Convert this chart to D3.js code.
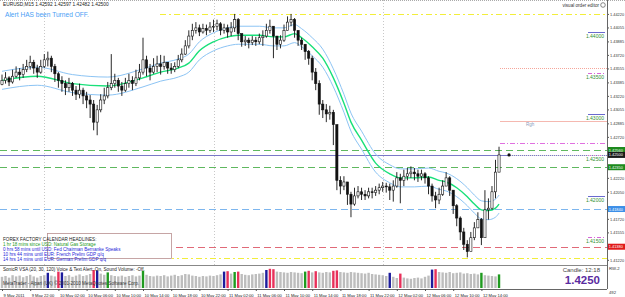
<!DOCTYPE html>
<html>
<head>
<meta charset="utf-8">
<script src="https://cdn.jsdelivr.net/npm/d3@7"></script>
<style>
body { margin: 0; background: #fff; }
svg { display: block; font-family: "Liberation Sans", Arial, sans-serif; }
</style>
</head>
<body>
<svg id="chart" width="625" height="297"></svg>
<script>
// EURUSD M15, resampled to 30 min bars starting 9 May 2011 18:00
var firstOpen = 1.4336
var closes = [1.4341,1.4344,1.4339,1.4346,1.4351,1.4348,1.4354,1.4358,1.4363,1.4356,
  1.4351,1.4358,1.4366,1.4368,1.4358,1.4349,1.4341,1.4337,1.4332,1.4337,
  1.4329,1.4324,1.4329,1.4322,1.4317,1.4312,1.4290,1.4305,1.4317,1.4322,
  1.4332,1.4337,1.4341,1.4334,1.4329,1.4337,1.4341,1.4337,1.4344,1.4351,
  1.4366,1.4356,1.4351,1.4358,1.4361,1.4358,1.4363,1.4356,1.4354,1.4358,
  1.4366,1.4373,1.4383,1.4395,1.4402,1.4405,1.4400,1.4404,1.4402,1.4406,
  1.4407,1.4410,1.4402,1.4405,1.4400,1.4405,1.4415,1.4398,1.4388,1.4390,
  1.4387,1.4390,1.4388,1.4393,1.4395,1.4402,1.4407,1.4395,1.4385,1.4390,
  1.4402,1.4412,1.4415,1.4402,1.4390,1.4385,1.4376,1.4368,1.4351,1.4337,
  1.4312,1.4305,1.4300,1.4302,1.4287,1.4219,1.4212,1.4217,1.4202,1.4190,
  1.4200,1.4205,1.4202,1.4200,1.4205,1.4204,1.4207,1.4210,1.4212,1.4211,
  1.4207,1.4212,1.4222,1.4219,1.4224,1.4227,1.4229,1.4227,1.4224,1.4227,
  1.4222,1.4212,1.4200,1.4195,1.4202,1.4212,1.4222,1.4207,1.4188,1.4173,
  1.4156,1.4141,1.4132,1.4149,1.4161,1.4171,1.4149,1.4183,1.4185,1.4205,
  1.4229,1.4250]
var highs = [1.4348,1.4351,1.4346,1.4354,1.4358,1.4356,1.4361,1.4366,1.4371,1.4366,
  1.4360,1.4366,1.4373,1.4376,1.4371,1.4361,1.4351,1.4346,1.4341,1.4344,
  1.4339,1.4334,1.4337,1.4332,1.4327,1.4323,1.4317,1.4311,1.4324,1.4332,
  1.4339,1.4373,1.4349,1.4344,1.4339,1.4344,1.4349,1.4346,1.4354,1.4361,
  1.4393,1.4371,1.4361,1.4368,1.4371,1.4372,1.4371,1.4363,1.4362,1.4363,
  1.4372,1.4380,1.4390,1.4402,1.4410,1.4412,1.4409,1.4410,1.4409,1.4412,
  1.4415,1.4415,1.4412,1.4410,1.4409,1.4412,1.4422,1.4417,1.4398,1.4395,
  1.4393,1.4395,1.4394,1.4398,1.4402,1.4410,1.4415,1.4407,1.4395,1.4396,
  1.4409,1.4419,1.4422,1.4417,1.4400,1.4393,1.4385,1.4378,1.4371,1.4356,
  1.4341,1.4317,1.4312,1.4310,1.4305,1.4268,1.4224,1.4224,1.4217,1.4205,
  1.4210,1.4212,1.4210,1.4207,1.4210,1.4210,1.4212,1.4215,1.4217,1.4216,
  1.4215,1.4219,1.4229,1.4227,1.4232,1.4234,1.4236,1.4234,1.4232,1.4232,
  1.4229,1.4224,1.4215,1.4205,1.4210,1.4219,1.4229,1.4224,1.4207,1.4190,
  1.4175,1.4161,1.4146,1.4156,1.4168,1.4180,1.4173,1.4207,1.4197,1.4212,
  1.4244,1.4260]
var lows = [1.4335,1.4337,1.4334,1.4337,1.4344,1.4341,1.4344,1.4351,1.4354,1.4349,
  1.4344,1.4349,1.4356,1.4358,1.4351,1.4339,1.4332,1.4327,1.4323,1.4327,
  1.4322,1.4317,1.4319,1.4312,1.4307,1.4295,1.4280,1.4274,1.4302,1.4312,
  1.4319,1.4329,1.4332,1.4327,1.4322,1.4327,1.4332,1.4329,1.4334,1.4341,
  1.4348,1.4346,1.4341,1.4349,1.4351,1.4348,1.4354,1.4349,1.4349,1.4351,
  1.4356,1.4363,1.4372,1.4380,1.4390,1.4398,1.4395,1.4398,1.4396,1.4399,
  1.4400,1.4402,1.4396,1.4398,1.4393,1.4395,1.4400,1.4390,1.4382,1.4383,
  1.4380,1.4384,1.4383,1.4385,1.4383,1.4393,1.4398,1.4368,1.4378,1.4380,
  1.4388,1.4402,1.4407,1.4393,1.4383,1.4378,1.4366,1.4360,1.4341,1.4329,
  1.4299,1.4295,1.4290,1.4293,1.4262,1.4207,1.4202,1.4207,1.4189,1.4174,
  1.4188,1.4197,1.4195,1.4195,1.4197,1.4197,1.4200,1.4202,1.4205,1.4204,
  1.4195,1.4193,1.4210,1.4191,1.4212,1.4219,1.4222,1.4219,1.4217,1.4219,
  1.4215,1.4202,1.4193,1.4185,1.4190,1.4200,1.4212,1.4200,1.4178,1.4163,
  1.4146,1.4134,1.4125,1.4136,1.4146,1.4161,1.4140,1.4156,1.4171,1.4183,
  1.4197,1.4229]

// moving average read at some bars, envelope +/- deviation
var maIdx = [0,10,20,30,40,45,50,53,56,60,64,67,73,77,80,83,85,88,91,94,97,99,102,106,110,113,117,121,124,126,129,132,134,136,138,140,141]
var maVals = [1.4341,1.4346,1.4337,1.4334,1.4344,1.4351,1.4356,1.4362,1.4377,1.4388,1.4394,1.4396,1.4396,1.4394,1.4394,1.4398,1.4393,1.4382,1.4368,1.4344,1.4313,1.4290,1.4268,1.4240,1.4227,1.4222,1.4222,1.4223,1.4219,1.4217,1.4210,1.4199,1.4190,1.4183,1.4182,1.4185,1.4190]
var envDev = 0.0011

// tick volume per bar and VSA signal bars
var volumes = [560,600,520,640,580,620,540,600,660,580,520,600,640,760,620,580,820,780,600,640,
  560,620,680,600,640,700,900,880,720,660,780,640,600,580,620,560,600,640,580,620,
  860,660,600,580,620,600,640,580,620,660,600,640,700,680,620,600,560,600,580,620,
  600,640,680,820,840,720,800,820,700,660,640,680,700,720,760,900,960,940,820,800,
  780,760,800,780,760,740,820,860,780,840,780,760,800,780,860,880,800,780,760,800,
  780,760,740,720,760,700,680,660,640,600,760,560,500,720,520,480,460,500,520,480,
  560,620,920,940,800,780,760,800,740,760,780,720,740,700,720,680,760,640,620,600,
  580,680]
var volBlue = [13,17,27,63,75,110,122]
var volRed = [16,26,64,67,76,77,87,89,94,95,113,123]
var volGreen = [30,40,66,86,136,141]

// horizontal objects
var priceNow = 1.4250
var greenLevels = [1.4256, 1.4235]
var blueLevels = [1.4184]
var redLevels = [1.4138]
var yellowLevels = [1.4422, 1.4124]
var roundLevels = [1.4400, 1.4350, 1.4300, 1.4250, 1.4200, 1.4150]
var pivotDotted = 1.4356, pivotSolid = 1.4291, pivotDashDot = 1.4265

var priceTicks = [1.44220,1.44055,1.43885,1.43720,1.43555,1.43385,1.43220,1.43055,1.42885,1.42720,
  1.42555,1.42385,1.42220,1.42050,1.41885,1.41720,1.41555,1.41385,1.41220]
var timeTicks = ['2011-05-09 18:00','2011-05-09 22:00','2011-05-10 02:00','2011-05-10 06:00','2011-05-10 10:00',
  '2011-05-10 14:00','2011-05-10 18:00','2011-05-10 22:00','2011-05-11 02:00','2011-05-11 06:00',
  '2011-05-11 10:00','2011-05-11 14:00','2011-05-11 18:00','2011-05-11 22:00','2011-05-12 02:00',
  '2011-05-12 06:00','2011-05-12 10:00','2011-05-12 14:00']
var timeLabels = ['9 May 2011','9 May 22:00','10 May 02:00','10 May 06:00','10 May 10:00',
  '10 May 14:00','10 May 18:00','10 May 22:00','11 May 02:00','11 May 06:00',
  '11 May 10:00','11 May 14:00','11 May 18:00','11 May 22:00','12 May 02:00',
  '12 May 06:00','12 May 10:00','12 May 14:00']
var daySeparators = ['2011-05-10 00:00','2011-05-11 00:00','2011-05-12 00:00']
var headlines = [
  {text: 'FOREX FACTORY CALENDAR HEADLINES:', color: '#222'},
  {text: '1 hr 18 mins since USD: Natural Gas Storage', color: '#1e9a1e'},
  {text: '0 hrs 58 mins until USD: Fed Chairman Bernanke Speaks', color: '#2828d8'},
  {text: '10 hrs 44 mins until EUR: French Prelim GDP q/q', color: '#2828d8'},
  {text: '14 hrs 14 mins until EUR: German Prelim GDP q/q', color: '#2828d8'}
]

var parse = d3.timeParse('%Y-%m-%d %H:%M')
var t0 = parse(timeTicks[0])
var barTime = function(i) { return d3.timeMinute.offset(t0, 30 * i) }

var axisX = 607, mainBottom = 265
var x = d3.scaleTime().domain([t0, parse(timeTicks[timeTicks.length - 1])]).range([2, 2 + 17 * 28.2])
var y = d3.scaleLinear().domain([1.4439, 1.4439 - 0.000122 * mainBottom]).range([0, mainBottom])
var yv = d3.scaleLinear().domain([0, 1000]).range([288, 268])

var svg = d3.select('#chart')
svg.append('rect').attr('width', 625).attr('height', 297).attr('fill', '#fff')

svg.append('defs').append('clipPath').attr('id', 'mainclip')
  .append('rect').attr('x', 0).attr('y', 0).attr('width', axisX).attr('height', mainBottom)

var main = svg.append('g').attr('clip-path', 'url(#mainclip)')

// day separators
main.selectAll('.sep').data(daySeparators).enter().append('line')
  .attr('x1', function(d) { return Math.round(x(parse(d))) + 0.5 })
  .attr('x2', function(d) { return Math.round(x(parse(d))) + 0.5 })
  .attr('y1', 0).attr('y2', mainBottom)
  .attr('stroke', '#c8c8c8').attr('stroke-dasharray', '1,2')

function hline(g, level, x1, color, dash, width) {
  g.append('line')
    .attr('x1', x1).attr('x2', axisX)
    .attr('y1', Math.round(y(level)) + 0.5).attr('y2', Math.round(y(level)) + 0.5)
    .attr('stroke', color).attr('stroke-width', width || 1)
    .attr('stroke-dasharray', dash)
}

greenLevels.forEach(function(l) { hline(main, l, 0, '#5fb85f', '7,4') })
blueLevels.forEach(function(l) { hline(main, l, 0, '#7db6ee', '7,4') })
redLevels.forEach(function(l) { hline(main, l, 0, '#e06a78', '7,4') })
hline(main, yellowLevels[0], 160, '#f2ee3a', '6,3,2,3')
hline(main, yellowLevels[1], 0, '#f2ee3a', '6,3,2,3')
hline(main, pivotDotted, 500, '#f5a59a', '1,1')
hline(main, pivotSolid, 500, '#f5b8b0', null)
hline(main, pivotDashDot, 500, '#e070e0', '5,2,1,2')
hline(main, priceNow, 0, '#7a78c8', null)

main.append('text').attr('x', 526).attr('y', y(pivotSolid) + 5)
  .attr('font-size', 4.5).attr('fill', '#8a9ab8').text('Rgh')

// round number markers
roundLevels.forEach(function(l, i) {
  var yy = Math.round(y(l)) + 0.5
  main.append('line').attr('x1', 588).attr('x2', 605).attr('y1', yy).attr('y2', yy)
    .attr('stroke', i % 2 ? '#d868d8' : '#6a6ad0')
    .attr('stroke-dasharray', i % 2 ? '4,2,1,2' : null)
  main.append('text').attr('x', 604).attr('y', yy + 5.5).attr('text-anchor', 'end')
    .attr('font-size', 5).attr('fill', '#2f8f2f').text(d3.format('.5f')(l))
})

// envelopes and MA
var maLine = function(off) {
  return d3.line()
    .x(function(d, i) { return x(barTime(maIdx[i])) })
    .y(function(d) { return y(d + off) })
    .curve(d3.curveMonotoneX)
}
main.append('path').datum(maVals).attr('d', maLine(envDev)).attr('fill', 'none').attr('stroke', '#8cc4f4').attr('stroke-width', 1)
main.append('path').datum(maVals).attr('d', maLine(-envDev)).attr('fill', 'none').attr('stroke', '#8cc4f4').attr('stroke-width', 1)
main.append('path').datum(maVals).attr('d', maLine(0)).attr('fill', 'none').attr('stroke', '#19e07a').attr('stroke-width', 1.4)

// candles
var bars = closes.map(function(c, i) {
  return {t: barTime(i), o: i ? closes[i - 1] : firstOpen, h: highs[i], l: lows[i], c: c}
})
var cg = main.selectAll('.candle').data(bars).enter().append('g')
cg.append('line')
  .attr('x1', function(d) { return x(d.t) }).attr('x2', function(d) { return x(d.t) })
  .attr('y1', function(d) { return y(d.h) }).attr('y2', function(d) { return y(d.l) })
  .attr('stroke', '#111').attr('stroke-width', 0.9)
cg.append('rect')
  .attr('x', function(d) { return x(d.t) - 1.1 })
  .attr('width', 2.2)
  .attr('y', function(d) { return y(Math.max(d.o, d.c)) })
  .attr('height', function(d) { return Math.max(0.8, Math.abs(y(d.o) - y(d.c))) })
  .attr('fill', function(d) { return d.c >= d.o ? '#fff' : '#111' })
  .attr('stroke', '#111').attr('stroke-width', 0.6)

// current price marker
var lastX = x(bars[bars.length - 1].t)
main.append('line').attr('x1', lastX + 10).attr('x2', axisX)
  .attr('y1', Math.round(y(priceNow)) + 0.5).attr('y2', Math.round(y(priceNow)) + 0.5)
  .attr('stroke', '#ddd').attr('stroke-dasharray', '1,1')
main.append('circle').attr('cx', lastX + 10).attr('cy', y(priceNow)).attr('r', 1.6).attr('fill', '#111')

// headlines panel
main.append('rect').attr('x', 0).attr('y', 231).attr('width', 172).attr('height', 31).attr('fill', '#fff')
main.append('rect').attr('x', 47.5).attr('y', 233.5).attr('width', 124).attr('height', 25)
  .attr('fill', 'none').attr('stroke', '#b89090').attr('stroke-width', 0.8)
main.selectAll('.hl').data(headlines).enter().append('text')
  .attr('x', 3).attr('y', function(d, i) { return 240.5 + i * 5 })
  .attr('font-size', 4.6).attr('fill', function(d) { return d.color })
  .text(function(d) { return d.text })

// header texts
svg.append('text').attr('x', 3).attr('y', 6).attr('font-size', 4.8).attr('fill', '#222')
  .text('EURUSD,M15  1.42592 1.42597 1.42482 1.42500')
svg.append('text').attr('x', 5).attr('y', 17).attr('font-size', 6.6).attr('fill', '#4aa0f5')
  .text('Alert HAS been Turned OFF.')
svg.append('text').attr('x', 599).attr('y', 7).attr('text-anchor', 'end').attr('font-size', 4.6).attr('fill', '#333')
  .text('visual order editor')
svg.append('circle').attr('cx', 603).attr('cy', 5).attr('r', 2.3).attr('fill', 'none').attr('stroke', '#555').attr('stroke-width', 0.7)
svg.append('line').attr('x1', 0).attr('x2', 625).attr('y1', 0.5).attr('y2', 0.5).attr('stroke', '#aaa').attr('stroke-dasharray', '1,1')

// highlighted price labels on axis
var boxes = [
  {v: greenLevels[0], fill: '#1d8a1d'},
  {v: greenLevels[1], fill: '#1d8a1d'},
  {v: blueLevels[0], fill: '#3d8fe8'},
  {v: redLevels[0], fill: '#e01a1a'},
  {v: priceNow, fill: '#1a1a1a'}
]

// price axis (ticks hidden under a highlighted label are left out)
var freeTicks = priceTicks.filter(function(t) {
  return boxes.every(function(b) { return Math.abs(y(t) - y(b.v)) > 6 })
})
var pAxis = svg.append('g').attr('transform', 'translate(' + axisX + ',0)')
  .call(d3.axisRight(y).tickValues(freeTicks).tickFormat(d3.format('.5f')).tickSize(2).tickPadding(1))
pAxis.select('.domain').remove()
pAxis.selectAll('text').attr('font-size', 3.9).attr('fill', '#333').attr('font-family', 'Liberation Sans, Arial')
pAxis.selectAll('line').attr('stroke', '#555')
svg.append('line').attr('x1', axisX + 0.5).attr('x2', axisX + 0.5).attr('y1', 0).attr('y2', 289).attr('stroke', '#666')

boxes.forEach(function(b) {
  svg.append('rect').attr('x', axisX + 1).attr('y', y(b.v) - 3).attr('width', 17).attr('height', 6).attr('fill', b.fill)
  svg.append('text').attr('x', axisX + 1.8).attr('y', y(b.v) + 1.5).attr('font-size', 3.9).attr('fill', '#fff')
    .text(d3.format('.5f')(b.v))
})

// volume window
svg.append('line').attr('x1', 0).attr('x2', axisX).attr('y1', 265.5).attr('y2', 265.5).attr('stroke', '#888')
var vcolor = function(i) {
  if (volBlue.indexOf(i) >= 0) return '#1c1c9c'
  if (volRed.indexOf(i) >= 0) return '#e8305a'
  if (volGreen.indexOf(i) >= 0) return '#1f9a1f'
  return '#bdbdbd'
}
svg.selectAll('.vol').data(volumes).enter().append('rect')
  .attr('x', function(d, i) { return x(barTime(i)) - 1.2 })
  .attr('width', 2.4)
  .attr('y', function(d) { return yv(d) })
  .attr('height', function(d) { return yv(0) - yv(d) })
  .attr('fill', function(d, i) { return vcolor(i) })

svg.append('text').attr('x', 3).attr('y', 271).attr('font-size', 4.6).attr('fill', '#222')
  .text('SonicR VSA (20, 30, 120)   Voice & Text Alert: On, Sound Volume: -Off.')
svg.append('text').attr('x', 3).attr('y', 285).attr('font-size', 4.6).attr('fill', '#333')
  .text('MetaTrader - Alpari (UK) \u00a9 2001-2010 MetaQuotes Software Corp.')
svg.append('text').attr('x', 600).attr('y', 272).attr('text-anchor', 'end').attr('font-size', 6).attr('fill', '#444')
  .text('Candle: 12:18')
svg.append('text').attr('x', 600).attr('y', 284).attr('text-anchor', 'end').attr('font-size', 11.5)
  .attr('font-weight', 'bold').attr('fill', '#5a2ca0').text(d3.format('.4f')(priceNow))
svg.append('text').attr('x', 609).attr('y', 270).attr('font-size', 4.2).attr('fill', '#333').text('RW-2')
svg.append('text').attr('x', 609).attr('y', 294).attr('font-size', 4.2).attr('fill', '#333').text('492')

// time axis
var tAxis = svg.append('g').attr('transform', 'translate(0,289)')
  .call(d3.axisBottom(x).tickValues(timeTicks.map(parse))
    .tickFormat(function(d, i) { return timeLabels[i] }).tickSize(2))
tAxis.select('.domain').attr('stroke', '#666').attr('d', 'M0,0.5H' + axisX)
tAxis.selectAll('line').attr('stroke', '#555')
tAxis.selectAll('text').attr('text-anchor', 'start').attr('dx', 1).attr('dy', 3.3)
  .attr('font-size', 4.1).attr('fill', '#222').attr('font-family', 'Liberation Sans, Arial')
</script>
</body>
</html>
